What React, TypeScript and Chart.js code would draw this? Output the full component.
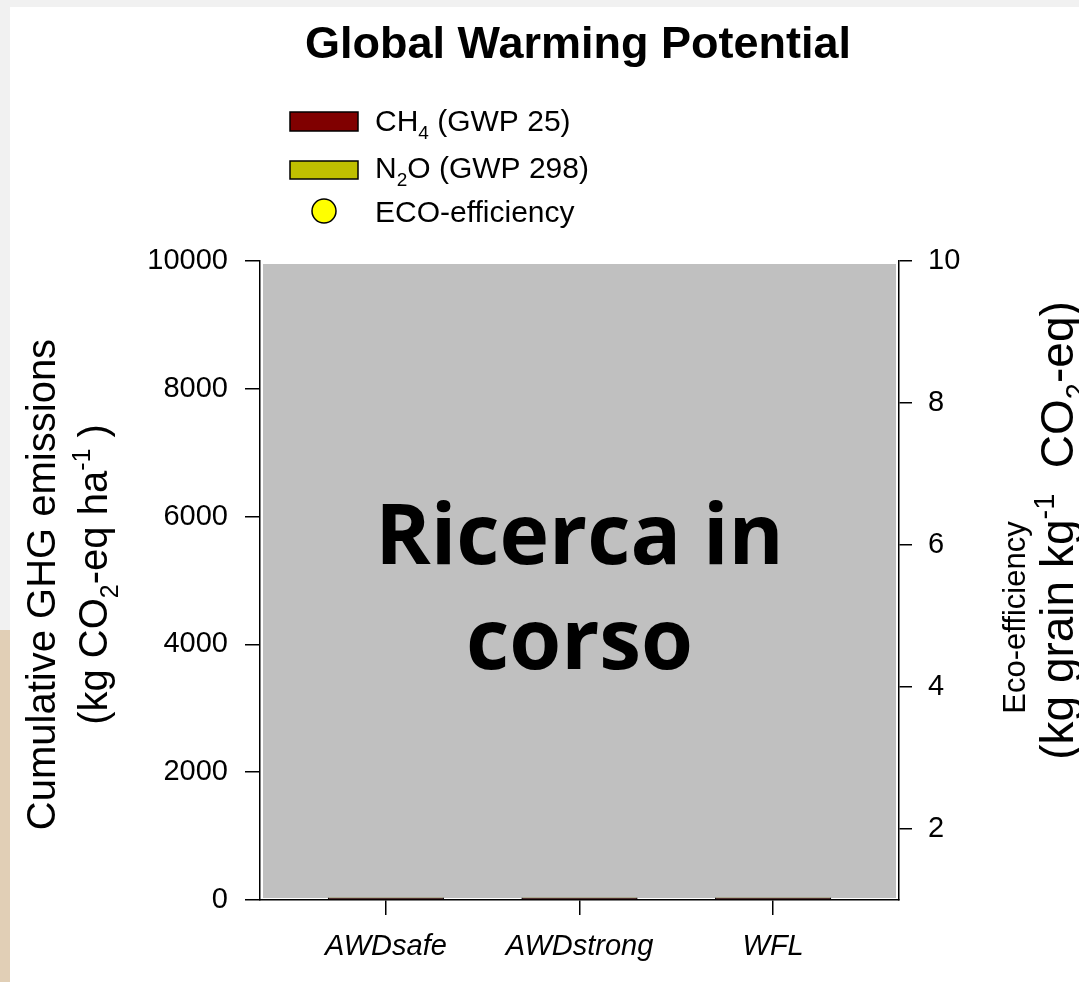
import React, { useEffect, useRef } from 'react';
import { Chart, registerables } from 'chart.js';

Chart.register(...registerables);

const FONT = "'Liberation Sans', Arial, Helvetica, sans-serif";
const OVERLAY_FONT = "'Open Sans', 'Noto Sans', sans-serif";

// ---- data ----
const titleText = 'Global Warming Potential';
const categories = ['AWDsafe', 'AWDstrong', 'WFL'];
const ch4Values = [30, 30, 30];
const n2oValues = [8, 8, 8];
const ecoValues: (number | null)[] = [null, null, null];
const leftTicks = [0, 2000, 4000, 6000, 8000, 10000];
const rightTicks = [2, 4, 6, 8, 10];
const overlayLines = ['Ricerca in', 'corso'];

type Part = { t: string; sub?: boolean; sup?: boolean };
const ch4Label: Part[] = [{ t: 'CH' }, { t: '4', sub: true }, { t: ' (GWP 25)' }];
const n2oLabel: Part[] = [{ t: 'N' }, { t: '2', sub: true }, { t: 'O (GWP 298)' }];
const ecoLabel: Part[] = [{ t: 'ECO-efficiency' }];
const leftTitle1: Part[] = [{ t: 'Cumulative GHG emissions' }];
const leftTitle2: Part[] = [
  { t: '(kg CO' }, { t: '2', sub: true }, { t: '-eq ha' }, { t: '-1', sup: true }, { t: ' )' },
];
const rightTitle1: Part[] = [{ t: 'Eco-efficiency' }];
const rightTitle2: Part[] = [
  { t: '(kg grain kg' }, { t: '-1', sup: true }, { t: '  CO' }, { t: '2', sub: true }, { t: '-eq)' },
];

function partFont(p: Part, size: number, weight = 'normal') {
  const s = p.sub || p.sup ? Math.round(size * 0.62) : size;
  return `${weight} ${s}px ${FONT}`;
}

function richWidth(ctx: CanvasRenderingContext2D, parts: Part[], size: number) {
  let w = 0;
  for (const p of parts) {
    ctx.font = partFont(p, size);
    w += ctx.measureText(p.t).width;
  }
  return w;
}

function drawRich(
  ctx: CanvasRenderingContext2D,
  parts: Part[],
  x: number,
  y: number,
  size: number,
  align: 'left' | 'center'
) {
  let cx = align === 'center' ? x - richWidth(ctx, parts, size) / 2 : x;
  ctx.textAlign = 'left';
  ctx.textBaseline = 'alphabetic';
  for (const p of parts) {
    ctx.font = partFont(p, size);
    const dy = p.sub ? size * 0.28 : p.sup ? -size * 0.42 : 0;
    ctx.fillText(p.t, cx, y + dy);
    cx += ctx.measureText(p.t).width;
  }
}

const decorPlugin = {
  id: 'decor',
  beforeDatasetsDraw(chart: any) {
    const { ctx, chartArea: a } = chart;
    ctx.save();
    ctx.fillStyle = '#c0c0c0';
    ctx.fillRect(a.left + 3, a.top + 3, a.right - a.left - 6, a.bottom - a.top - 5);
    ctx.restore();
  },
  afterDatasetsDraw(chart: any) {
    const { ctx, chartArea: a } = chart;
    const cx = (a.left + a.right) / 2;
    const cy = (a.top + a.bottom) / 2;
    ctx.save();
    ctx.fillStyle = '#000';
    ctx.font = `bold 84px ${OVERLAY_FONT}`;
    ctx.textAlign = 'center';
    ctx.textBaseline = 'alphabetic';
    ctx.fillText(overlayLines[0], cx, cy - 17);
    ctx.fillText(overlayLines[1], cx, cy + 88);
    ctx.restore();
  },
  afterDraw(chart: any) {
    const { ctx, chartArea: a } = chart;
    ctx.save();
    ctx.fillStyle = '#000';
    ctx.font = `bold 45px ${FONT}`;
    ctx.textAlign = 'center';
    ctx.textBaseline = 'alphabetic';
    ctx.fillText(titleText, 578, 58);

    // legend
    const ds = chart.data.datasets;
    const items = [
      { parts: ch4Label, ds: ds[0], kind: 'box', top: 112, bottom: 131, base: 131 },
      { parts: n2oLabel, ds: ds[1], kind: 'box', top: 161, bottom: 179, base: 178 },
      { parts: ecoLabel, ds: ds[2], kind: 'dot', top: 199, bottom: 223, base: 222 },
    ];
    for (const it of items) {
      ctx.lineWidth = 1.5;
      ctx.strokeStyle = '#000';
      if (it.kind === 'box') {
        ctx.fillStyle = it.ds.backgroundColor;
        ctx.fillRect(290, it.top, 68, it.bottom - it.top);
        ctx.strokeRect(290, it.top, 68, it.bottom - it.top);
      } else {
        ctx.fillStyle = it.ds.pointBackgroundColor;
        ctx.beginPath();
        ctx.arc(324, (it.top + it.bottom) / 2, 12, 0, Math.PI * 2);
        ctx.fill();
        ctx.stroke();
      }
      ctx.fillStyle = '#000';
      drawRich(ctx, it.parts, 375, it.base, 30, 'left');
    }

    // axis titles
    const midY = (a.top + a.bottom) / 2;
    const rot = (x: number, y: number, parts: Part[], size: number) => {
      ctx.save();
      ctx.translate(x, y);
      ctx.rotate(-Math.PI / 2);
      drawRich(ctx, parts, 0, 0, size, 'center');
      ctx.restore();
    };
    rot(55, midY + 4, leftTitle1, 40);
    rot(107, midY - 6, leftTitle2, 40);
    rot(1025, midY + 37, rightTitle1, 31);
    rot(1073, midY - 50, rightTitle2, 46);
    ctx.restore();
  },
};

export default function App() {
  const ref = useRef<HTMLCanvasElement | null>(null);

  useEffect(() => {
    document.body.style.margin = '0';
    const canvas = ref.current;
    if (!canvas) return;
    const axisColor = '#000';
    const chart = new Chart(canvas, {
      type: 'bar',
      data: {
        datasets: [
          {
            type: 'bar',
            label: 'CH4 (GWP 25)',
            data: categories.map((_, i) => ({ x: i, y: ch4Values[i] })),
            backgroundColor: '#800000',
            borderColor: '#000',
            borderWidth: 1,
            barPercentage: 0.6,
            categoryPercentage: 1,
            yAxisID: 'y',
            stack: 'ghg',
          },
          {
            type: 'bar',
            label: 'N2O (GWP 298)',
            data: categories.map((_, i) => ({ x: i, y: n2oValues[i] })),
            backgroundColor: '#bfbf00',
            borderColor: '#000',
            borderWidth: 1,
            barPercentage: 0.6,
            categoryPercentage: 1,
            yAxisID: 'y',
            stack: 'ghg',
          },
          {
            type: 'line',
            label: 'ECO-efficiency',
            data: categories.map((_, i) => ({ x: i, y: ecoValues[i] })),
            yAxisID: 'y2',
            showLine: false,
            pointRadius: 12,
            pointBackgroundColor: '#ffff00',
            pointBorderColor: '#000',
            pointBorderWidth: 1.5,
            backgroundColor: '#ffff00',
          } as any,
        ],
      },
      options: {
        responsive: false,
        animation: false,
        devicePixelRatio: 1,
        layout: { padding: { top: 261, left: 0, right: 0, bottom: 0 } },
        plugins: {
          legend: { display: false },
          title: { display: false },
          tooltip: { enabled: false },
        },
        scales: {
          x: {
            type: 'linear',
            min: -0.65,
            max: 2.65,
            offset: false,
            stacked: true,
            afterBuildTicks: (s: any) => {
              s.ticks = categories.map((_, i) => ({ value: i }));
            },
            afterFit: (s: any) => {
              s.height = 82;
            },
            ticks: {
              callback: (v: any) => categories[v as number],
              autoSkip: false,
              maxRotation: 0,
              padding: 15,
              color: '#000',
              font: { family: FONT, size: 29, style: 'italic' },
            },
            grid: {
              offset: false,
              drawOnChartArea: false,
              drawTicks: true,
              tickLength: 15,
              color: axisColor,
              lineWidth: 1.5,
            },
            border: { display: true, color: axisColor, width: 1.5 },
          },
          y: {
            type: 'linear',
            position: 'left',
            min: 0,
            max: 10000,
            stacked: true,
            afterBuildTicks: (s: any) => {
              s.ticks = leftTicks.map((v) => ({ value: v }));
            },
            afterFit: (s: any) => {
              s.width = 260;
            },
            ticks: {
              padding: 17,
              color: '#000',
              font: { family: FONT, size: 29 },
              callback: (v: any) => String(v),
            },
            grid: {
              drawOnChartArea: false,
              tickLength: 15,
              color: axisColor,
              lineWidth: 1.5,
            },
            border: { display: true, color: axisColor, width: 1.5 },
          },
          y2: {
            type: 'linear',
            position: 'right',
            min: 1,
            max: 10,
            afterBuildTicks: (s: any) => {
              s.ticks = rightTicks.map((v) => ({ value: v }));
            },
            afterFit: (s: any) => {
              s.width = 180;
            },
            ticks: {
              padding: 16,
              color: '#000',
              font: { family: FONT, size: 29 },
              callback: (v: any) => String(v),
            },
            grid: {
              drawOnChartArea: false,
              tickLength: 13,
              color: axisColor,
              lineWidth: 1.5,
            },
            border: { display: true, color: axisColor, width: 1.5 },
          },
        },
      } as any,
      plugins: [decorPlugin],
    });
    return () => chart.destroy();
  }, []);

  return (
    <div style={{ position: 'absolute', left: 0, top: 0, width: 1079, height: 982, background: '#ffffff', overflow: 'hidden' }}>
      <div style={{ position: 'absolute', left: 0, top: 0, width: 1079, height: 7, background: '#f1f1f1' }} />
      <div style={{ position: 'absolute', left: 0, top: 0, width: 10, height: 630, background: '#f1f1f1' }} />
      <div style={{ position: 'absolute', left: 0, top: 630, width: 10, height: 352, background: '#e1cfb6' }} />
      <canvas ref={ref} width={1079} height={982} style={{ position: 'absolute', left: 0, top: 0, display: 'block' }} />
    </div>
  );
}
